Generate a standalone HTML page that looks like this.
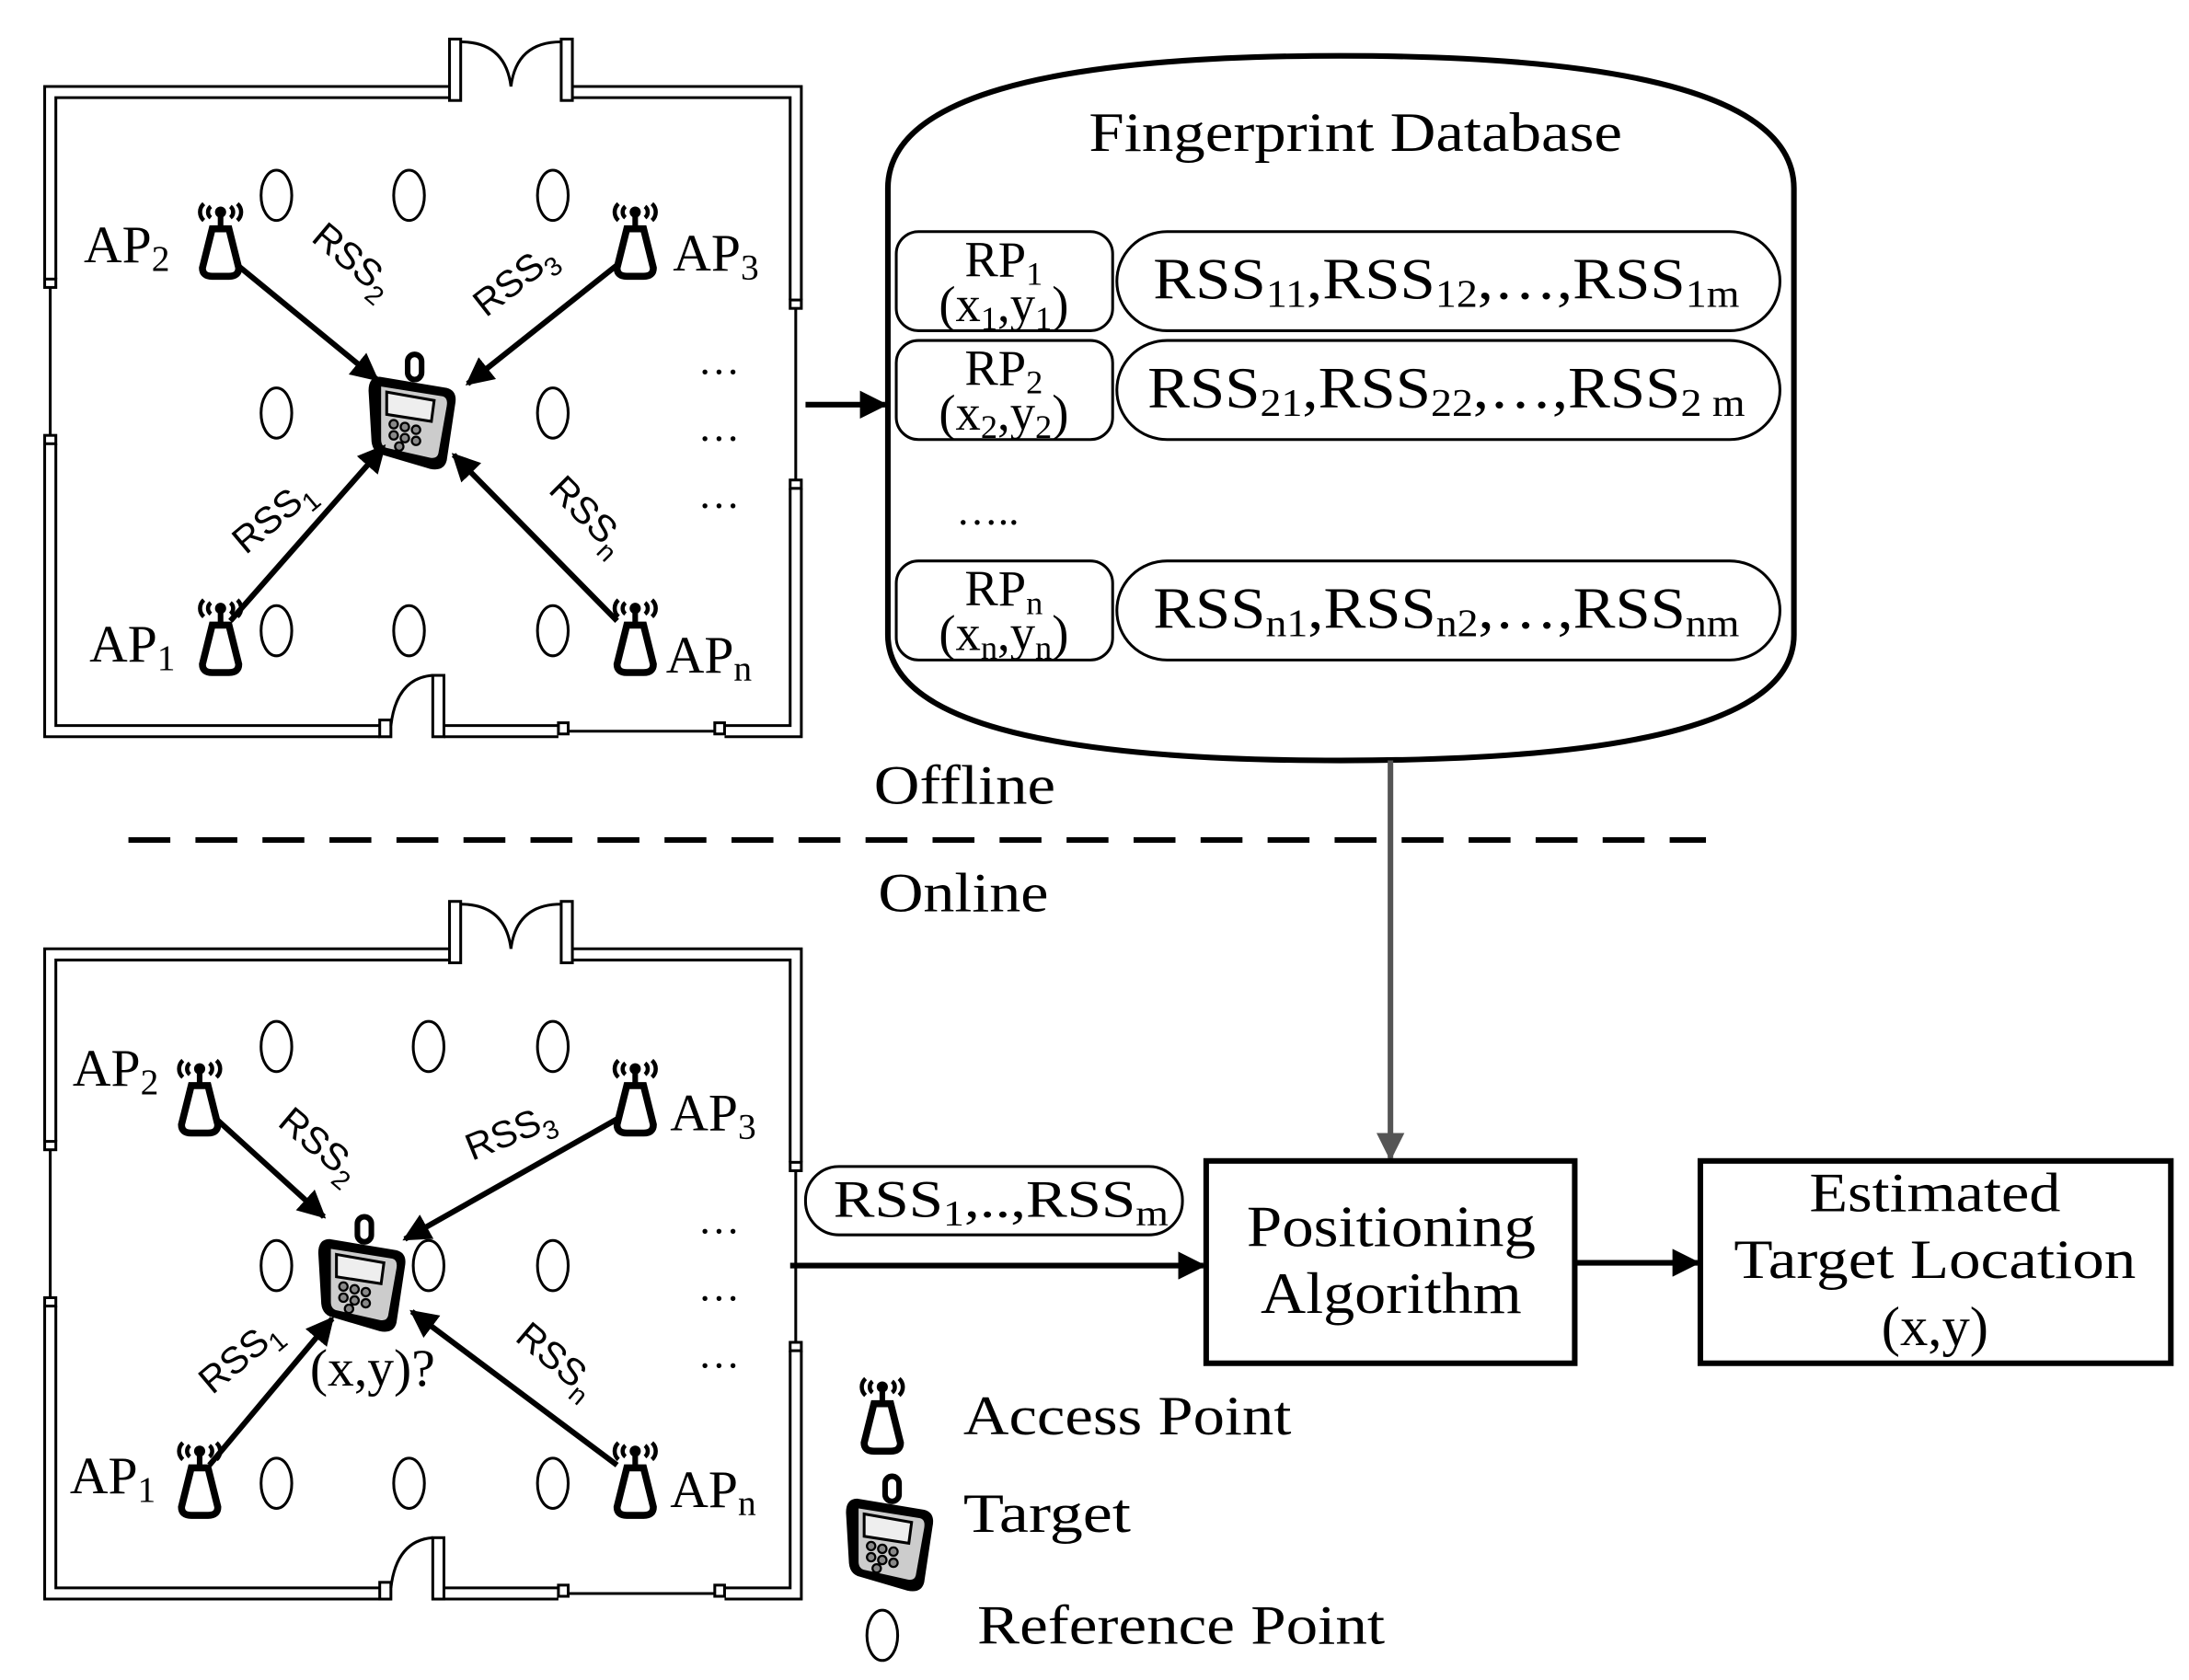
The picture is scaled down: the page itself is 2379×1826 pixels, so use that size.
<!DOCTYPE html>
<html><head><meta charset="utf-8"><style>html,body{margin:0;padding:0;background:#fff}svg{display:block}text{font-family:"Liberation Serif",serif;fill:#000}</style></head>
<body>
<svg width="2379" height="1826" viewBox="0 0 1568 1204" preserveAspectRatio="none" xmlns="http://www.w3.org/2000/svg">
<defs>
<marker id="ah" viewBox="0 0 10 10" refX="9" refY="5" markerWidth="5" markerHeight="5" orient="auto"><path d="M0,0L10,5L0,10z" fill="#000"/></marker>
<marker id="ag" viewBox="0 0 10 10" refX="9" refY="5" markerWidth="5" markerHeight="5" orient="auto"><path d="M0,0L10,5L0,10z" fill="#555"/></marker>
<g id="room" fill="none" stroke="#000" stroke-width="2">
<path d="M322,62H32V200M40,200V70H322"/>
<rect x="322" y="28" width="8" height="44"/><rect x="402" y="28" width="8" height="44"/>
<path d="M330,30Q362,30 366,62M402,30Q370,30 366,62"/>
<path d="M410,62H574V215M566,215V70H410"/>
<rect x="32" y="200" width="8" height="6"/><line x1="36" y1="206" x2="36" y2="312"/><rect x="32" y="312" width="8" height="6"/>
<path d="M32,318V528H272M40,318V520H272"/>
<rect x="272" y="516" width="8" height="12"/>
<path d="M280,520Q284,486 310,484"/><rect x="310" y="484" width="8" height="44"/>
<path d="M318,528H400M318,520H400"/><rect x="400" y="518" width="7" height="8"/>
<line x1="407" y1="524" x2="512" y2="524"/><rect x="512" y="518" width="7" height="8"/>
<path d="M519,528H574V350M519,520H566V350"/>
<rect x="566" y="215" width="8" height="6"/><line x1="570" y1="221" x2="570" y2="344"/><rect x="566" y="344" width="8" height="6"/>
</g>
<g id="ap">
<path d="M-12,-28a8,8 0 0 0 0,12M12,-28a8,8 0 0 1 0,12M-7,-26a5,5 0 0 0 0,8M7,-26a5,5 0 0 1 0,8" fill="none" stroke="#000" stroke-width="3"/>
<circle cx="0" cy="-22" r="4" fill="#000"/>
<rect x="-2" y="-20" width="4" height="10" fill="#000"/>
<path d="M-6,-10H6L13,18Q13,24 6,24H-6Q-13,24 -13,18Z" fill="#fff" stroke="#000" stroke-width="5"/>
</g>
<g id="phone">
<rect x="-6" y="-40" width="10" height="18" rx="5" fill="#fff" stroke="#000" stroke-width="4"/>
<path d="M-26,-24L22,-16Q30,-14 28,-4L22,36Q20,44 10,42L-24,32Q-32,30 -32,20L-34,-14Q-34,-24 -26,-24Z" fill="#000"/>
<path d="M-25,-17L19,-10Q23,-9 22,-3L16,31Q15,35 10,34L-21,27Q-25,26 -25,21Z" fill="#ccc"/>
<path d="M-21,-13L13,-7L11,8L-21,3Z" fill="#eee" stroke="#000" stroke-width="2"/>
<g fill="#888" stroke="#000" stroke-width="1.5"><circle cx="-16" cy="10" r="3"/><circle cx="-8" cy="12" r="3"/><circle cx="0" cy="14" r="3"/><circle cx="-16" cy="18" r="3"/><circle cx="-8" cy="20" r="3"/><circle cx="0" cy="22" r="3"/><circle cx="-12" cy="26" r="3"/></g>
</g>
<ellipse id="rp" cx="0" cy="0" rx="11" ry="18" fill="none" stroke="#000" stroke-width="2"/>
</defs>

<!-- Room 1 -->
<use href="#room"/>
<g>
<use href="#rp" x="198" y="140"/><use href="#rp" x="293" y="140"/><use href="#rp" x="396" y="140"/>
<use href="#rp" x="198" y="296"/><use href="#rp" x="396" y="296"/>
<use href="#rp" x="198" y="452"/><use href="#rp" x="293" y="452"/><use href="#rp" x="396" y="452"/>
</g>
<use href="#ap" x="158" y="174"/><use href="#ap" x="455" y="174"/><use href="#ap" x="158" y="458"/><use href="#ap" x="455" y="458"/>
<use href="#phone" x="298" y="294"/>
<g stroke="#000" stroke-width="4" marker-end="url(#ah)">
<line x1="170" y1="190" x2="270" y2="272"/><line x1="442" y1="190" x2="335" y2="275"/>
<line x1="165" y1="445" x2="275" y2="320"/><line x1="442" y1="445" x2="325" y2="326"/>
</g>
<g font-size="38">
<text x="60" y="188">AP<tspan font-size="26" dy="6">2</tspan></text>
<text x="482" y="194">AP<tspan font-size="26" dy="6">3</tspan></text>
<text x="64" y="474">AP<tspan font-size="26" dy="6">1</tspan></text>
<text x="477" y="482">AP<tspan font-size="26" dy="6">n</tspan></text>
</g>
<g font-size="27">
<text transform="translate(222,172) rotate(40)" style="font-family:'Liberation Sans',sans-serif">RSS<tspan font-size="19" dy="7">2</tspan></text>
<text transform="translate(348,228) rotate(-38)" style="font-family:'Liberation Sans',sans-serif">RSS<tspan font-size="19" dy="7">3</tspan></text>
<text transform="translate(176,398) rotate(-40)" style="font-family:'Liberation Sans',sans-serif">RSS<tspan font-size="19" dy="7">1</tspan></text>
<text transform="translate(392,352) rotate(45)" style="font-family:'Liberation Sans',sans-serif">RSS<tspan font-size="19" dy="7">n</tspan></text>
</g>
<g font-size="30"><text x="500" y="268">…</text><text x="500" y="316">…</text><text x="500" y="364">…</text></g>

<!-- Room 2 -->
<use href="#room" y="618"/>
<g>
<use href="#rp" x="198" y="750"/><use href="#rp" x="307" y="750"/><use href="#rp" x="396" y="750"/>
<use href="#rp" x="198" y="907"/><use href="#rp" x="307" y="907"/><use href="#rp" x="396" y="907"/>
<use href="#rp" x="198" y="1063"/><use href="#rp" x="293" y="1063"/><use href="#rp" x="396" y="1063"/>
</g>
<use href="#ap" x="143" y="788"/><use href="#ap" x="455" y="788"/><use href="#ap" x="143" y="1062"/><use href="#ap" x="455" y="1062"/>
<use href="#phone" x="262" y="912"/>
<g stroke="#000" stroke-width="4" marker-end="url(#ah)">
<line x1="155" y1="802" x2="232" y2="872"/><line x1="442" y1="802" x2="290" y2="888"/>
<line x1="150" y1="1050" x2="238" y2="945"/><line x1="442" y1="1050" x2="295" y2="940"/>
</g>
<g font-size="38">
<text x="52" y="778">AP<tspan font-size="26" dy="6">2</tspan></text>
<text x="480" y="810">AP<tspan font-size="26" dy="6">3</tspan></text>
<text x="50" y="1070">AP<tspan font-size="26" dy="6">1</tspan></text>
<text x="480" y="1080">AP<tspan font-size="26" dy="6">n</tspan></text>
<text x="222" y="993">(x,y)?</text>
</g>
<g font-size="27">
<text transform="translate(198,806) rotate(40)" style="font-family:'Liberation Sans',sans-serif">RSS<tspan font-size="19" dy="7">2</tspan></text>
<text transform="translate(338,832) rotate(-22)" style="font-family:'Liberation Sans',sans-serif">RSS<tspan font-size="19" dy="7">3</tspan></text>
<text transform="translate(152,1000) rotate(-40)" style="font-family:'Liberation Sans',sans-serif">RSS<tspan font-size="19" dy="7">1</tspan></text>
<text transform="translate(368,960) rotate(40)" style="font-family:'Liberation Sans',sans-serif">RSS<tspan font-size="19" dy="7">n</tspan></text>
</g>
<g font-size="30"><text x="500" y="884">…</text><text x="500" y="932">…</text><text x="500" y="980">…</text></g>

<!-- Database -->
<path d="M636,135Q636,40 960,40Q1285,40 1285,135V455Q1285,545 960,545Q636,545 636,455Z" fill="none" stroke="#000" stroke-width="4"/>
<text x="780" y="108" font-size="40" textLength="382" lengthAdjust="spacingAndGlyphs">Fingerprint Database</text>
<g fill="none" stroke="#000" stroke-width="2">
<rect x="642" y="166" width="155" height="71" rx="16"/><rect x="800" y="166" width="475" height="71" rx="36"/>
<rect x="642" y="244" width="155" height="71" rx="16"/><rect x="800" y="244" width="475" height="71" rx="36"/>
<rect x="642" y="402" width="155" height="71" rx="16"/><rect x="800" y="402" width="475" height="71" rx="36"/>
</g>
<g font-size="36" text-anchor="middle">
<text x="719" y="198">RP<tspan font-size="24" dy="6">1</tspan></text>
<text x="719" y="230">(x<tspan font-size="24" dy="6">1</tspan><tspan dy="-6">,y</tspan><tspan font-size="24" dy="6">1</tspan><tspan dy="-6">)</tspan></text>
<text x="719" y="276">RP<tspan font-size="24" dy="6">2</tspan></text>
<text x="719" y="308">(x<tspan font-size="24" dy="6">2</tspan><tspan dy="-6">,y</tspan><tspan font-size="24" dy="6">2</tspan><tspan dy="-6">)</tspan></text>
<text x="719" y="434">RP<tspan font-size="24" dy="6">n</tspan></text>
<text x="719" y="466">(x<tspan font-size="24" dy="6">n</tspan><tspan dy="-6">,y</tspan><tspan font-size="24" dy="6">n</tspan><tspan dy="-6">)</tspan></text>
</g>
<g font-size="42">
<text x="826" y="214" textLength="420" lengthAdjust="spacingAndGlyphs">RSS<tspan font-size="28" dy="6">11</tspan><tspan dy="-6">,RSS</tspan><tspan font-size="28" dy="6">12</tspan><tspan dy="-6">,…,RSS</tspan><tspan font-size="28" dy="6">1m</tspan></text>
<text x="822" y="292" textLength="428" lengthAdjust="spacingAndGlyphs">RSS<tspan font-size="28" dy="6">21</tspan><tspan dy="-6">,RSS</tspan><tspan font-size="28" dy="6">22</tspan><tspan dy="-6">,…,RSS</tspan><tspan font-size="28" dy="6">2 m</tspan></text>
<text x="826" y="450" textLength="420" lengthAdjust="spacingAndGlyphs">RSS<tspan font-size="28" dy="6">n1</tspan><tspan dy="-6">,RSS</tspan><tspan font-size="28" dy="6">n2</tspan><tspan dy="-6">,…,RSS</tspan><tspan font-size="28" dy="6">nm</tspan></text>
</g>
<text x="685" y="376" font-size="30">…..</text>
<line x1="577" y1="290" x2="634" y2="290" stroke="#000" stroke-width="4" marker-end="url(#ah)"/>

<!-- Offline/Online -->
<text x="626" y="576" font-size="40" textLength="130" lengthAdjust="spacingAndGlyphs">Offline</text>
<line x1="92" y1="602" x2="1222" y2="602" stroke="#000" stroke-width="4" stroke-dasharray="30,18"/>
<text x="629" y="653" font-size="40" textLength="122" lengthAdjust="spacingAndGlyphs">Online</text>
<line x1="996" y1="545" x2="996" y2="830" stroke="#555" stroke-width="4" marker-end="url(#ag)"/>

<rect x="864" y="832" width="264" height="145" fill="none" stroke="#000" stroke-width="4"/>
<text x="893" y="893" font-size="42" textLength="207" lengthAdjust="spacingAndGlyphs">Positioning</text>
<text x="903" y="941" font-size="42" textLength="187" lengthAdjust="spacingAndGlyphs">Algorithm</text>
<rect x="1218" y="832" width="337" height="145" fill="none" stroke="#000" stroke-width="4"/>
<text x="1296" y="868" font-size="40" textLength="180" lengthAdjust="spacingAndGlyphs">Estimated</text>
<text x="1242" y="916" font-size="40" textLength="288" lengthAdjust="spacingAndGlyphs">Target Location</text>
<text x="1386" y="964" font-size="40" text-anchor="middle">(x,y)</text>
<line x1="1128" y1="905" x2="1216" y2="905" stroke="#000" stroke-width="4" marker-end="url(#ah)"/>
<line x1="566" y1="907" x2="862" y2="907" stroke="#000" stroke-width="4" marker-end="url(#ah)"/>
<rect x="577" y="836" width="270" height="49" rx="24" fill="none" stroke="#000" stroke-width="2"/>
<text x="597" y="872" font-size="38" textLength="240" lengthAdjust="spacingAndGlyphs">RSS<tspan font-size="26" dy="6">1</tspan><tspan dy="-6">,..,RSS</tspan><tspan font-size="26" dy="6">m</tspan></text>

<!-- Legend -->
<use href="#ap" x="632" y="1016"/>
<text x="690" y="1028" font-size="40" textLength="235" lengthAdjust="spacingAndGlyphs">Access Point</text>
<use href="#phone" x="640" y="1098"/>
<text x="690" y="1098" font-size="40" textLength="120" lengthAdjust="spacingAndGlyphs">Target</text>
<use href="#rp" x="632" y="1172"/>
<text x="700" y="1178" font-size="40" textLength="292" lengthAdjust="spacingAndGlyphs">Reference Point</text>
</svg>
</body></html>
